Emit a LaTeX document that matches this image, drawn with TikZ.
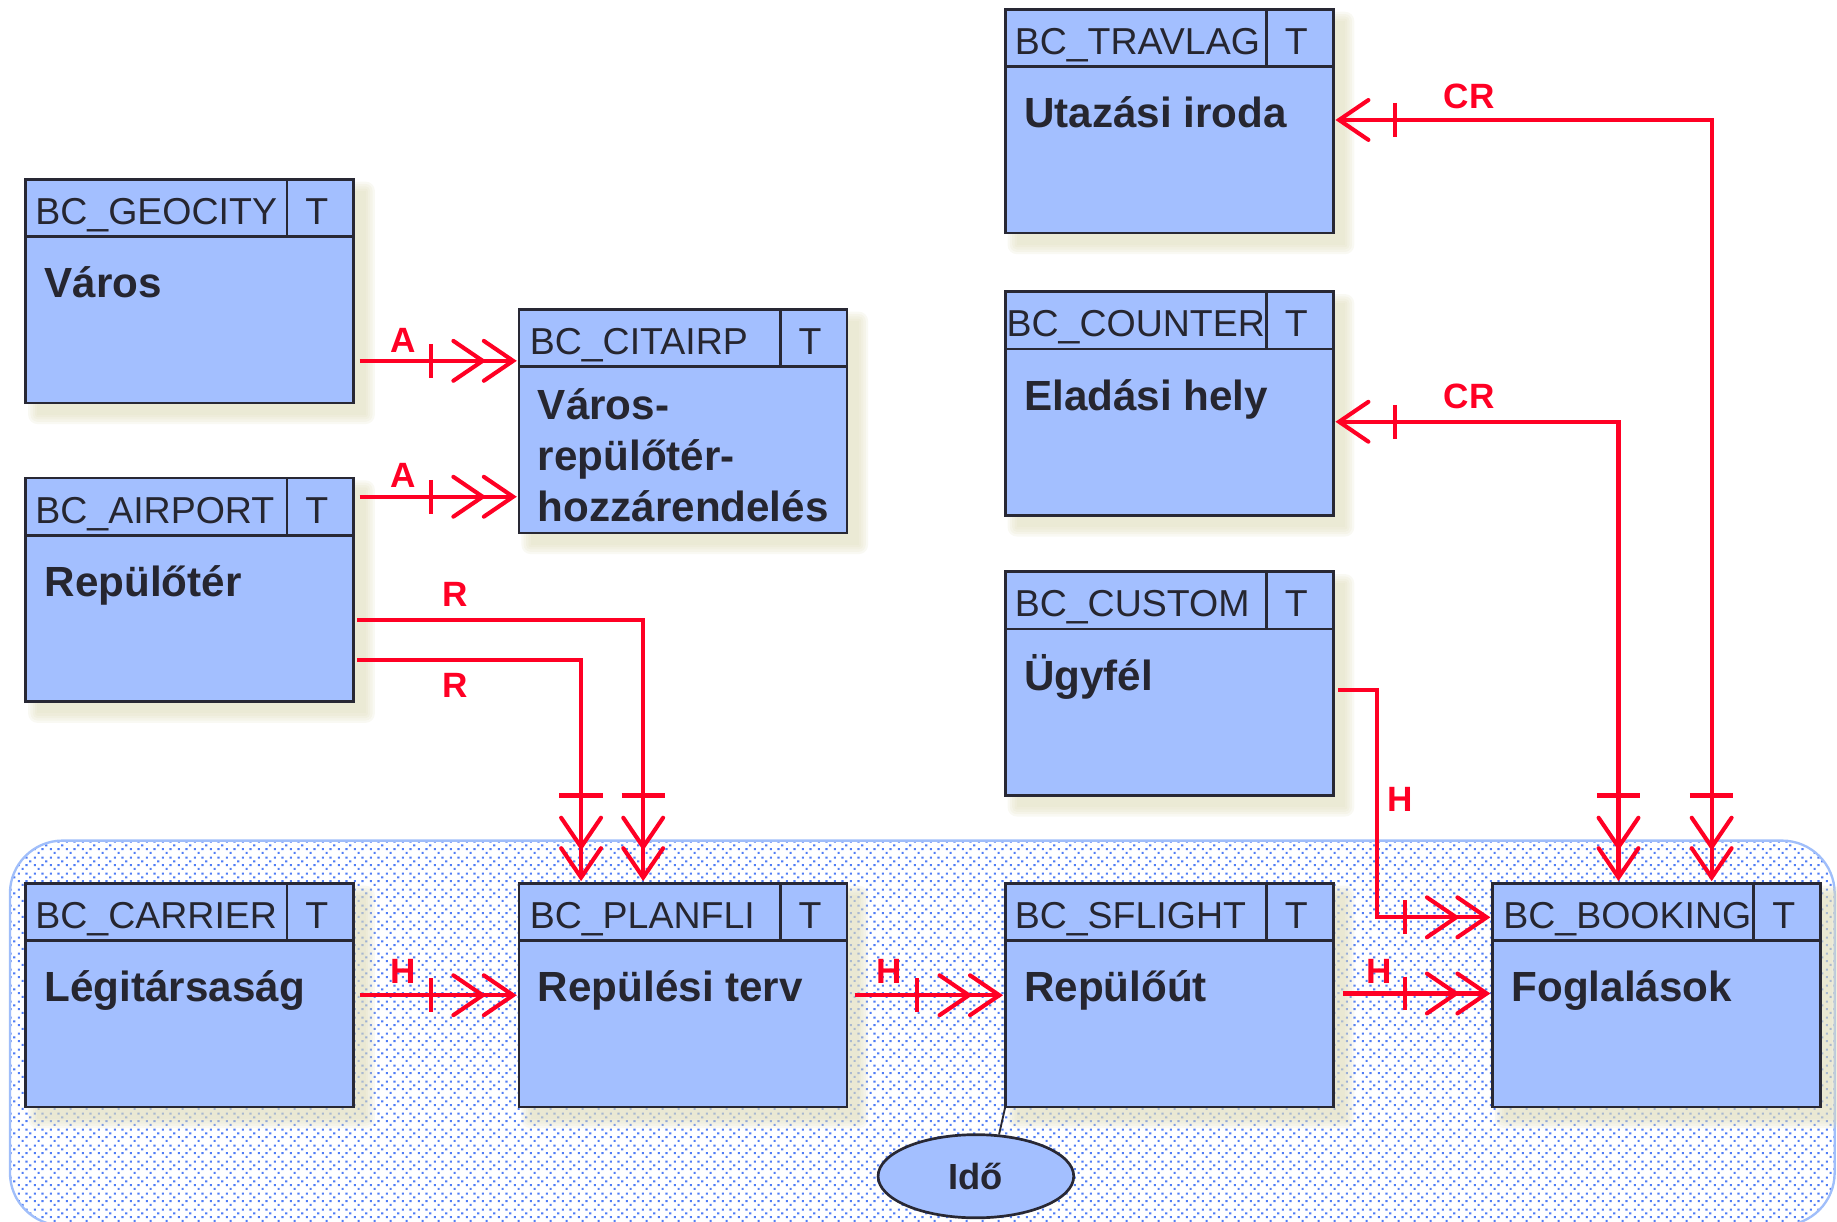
\documentclass[tikz,border=0pt]{standalone}
\usepackage{fontspec}
\setmainfont{Liberation Sans}
\usetikzlibrary{shapes.geometric,patterns,calc}
\definecolor{boxblue}{RGB}{163,191,255}
\definecolor{boxline}{RGB}{40,40,52}
\definecolor{txt}{RGB}{38,38,48}
\definecolor{relred}{RGB}{255,0,36}
\definecolor{dotblue}{RGB}{80,125,245}
\definecolor{frameblue}{RGB}{160,190,250}
\definecolor{shadowcol}{RGB}{224,221,188}
\pgfdeclarepatternformonly{erdots}{\pgfqpoint{0pt}{0pt}}{\pgfqpoint{13.66pt}{13.66pt}}{\pgfqpoint{13.66pt}{13.66pt}}{%
 \pgfpathrectangle{\pgfqpoint{5.12pt}{0pt}}{\pgfqpoint{1.9pt}{1.9pt}}%
 \pgfpathrectangle{\pgfqpoint{1.71pt}{3.41pt}}{\pgfqpoint{1.9pt}{1.9pt}}%
 \pgfpathrectangle{\pgfqpoint{8.54pt}{3.41pt}}{\pgfqpoint{1.9pt}{1.9pt}}%
 \pgfpathrectangle{\pgfqpoint{11.95pt}{6.83pt}}{\pgfqpoint{1.9pt}{1.9pt}}%
 \pgfpathrectangle{\pgfqpoint{1.71pt}{10.24pt}}{\pgfqpoint{1.9pt}{1.9pt}}%
 \pgfpathrectangle{\pgfqpoint{8.54pt}{10.24pt}}{\pgfqpoint{1.9pt}{1.9pt}}%
 \pgfusepath{fill}}
\tikzset{
  entity/.style={draw=boxline, line width=2.3pt, fill=boxblue, rectangle,
    minimum width=280pt, minimum height=191pt, anchor=north west,
    inner sep=0pt, outer sep=0pt},
  sepline/.style={draw=boxline, line width=2.3pt},
  hdr/.style={text=txt, font=\fontsize{32}{38}\selectfont, inner sep=0pt},
  bodytxt/.style={anchor=base west, text=txt, font=\fontsize{36}{44}\selectfont\bfseries, inner sep=0pt},
  rel/.style={draw=relred, line width=3.5pt},
  rellbl/.style={text=relred, font=\fontsize{30}{35}\selectfont\bfseries, inner sep=0pt},
  manyR/.pic={\draw[rel, line cap=round] (-25,-17)--(0,0)--(-25,17) (-51,-17)--(-26,0)--(-51,17);
              \draw[rel] (-70,-14.5)--(-70,14.5);},
  manyD/.pic={\draw[rel, line cap=round] (-17,-25)--(0,0)--(17,-25) (-17,-51)--(0,-26)--(17,-51);
              \draw[rel] (-18.5,-70)--(18.5,-70);},
  oneL/.pic={\draw[rel, line cap=round] (25,-17)--(0,0)--(25,17);
             \draw[rel] (48,-14.5)--(48,14.5);},
}
% #1 name, #2 x, #3 y, #4 header, #5 body, #6 body baseline offset, #7 header x offset
\newcommand\erbox[7]{%
  \foreach \d in {0,2,4,6,8} {\fill[shadowcol, opacity=0.18, rounded corners={\d pt}]
     ($(#2,#3)+(10-\d,10-\d)$) rectangle ++(280+2*\d,191+2*\d);}
  \node[entity] (#1) at (#2,#3) {};
  \draw[sepline] ($(#1.north west)+(0,49)$) -- ($(#1.north east)+(0,49)$);
  \draw[sepline] ($(#1.north west)+(223,0)$) -- ($(#1.north west)+(223,49)$);
  \node[hdr, anchor=base west] (#1-h) at ($(#1.north west)+(#7,38.5)$) {#4};
  \node[hdr, anchor=base] (#1-t) at ($(#1.north west)+(248.5,38.5)$) {T};
  \node[bodytxt] (#1-b) at ($(#1.north west)+(16,#6)$) {#5};
}
\begin{document}
\begin{tikzpicture}[x=1pt,y=-1pt]
\useasboundingbox (0,0) rectangle (1568,1043);
% container
\path[fill=white, rounded corners=45pt] (8.5,717.5) rectangle (1566,1046);
\path[pattern=erdots, pattern color=dotblue, rounded corners=45pt] (8.5,717.5) rectangle (1566,1046);
\draw[frameblue, line width=2pt, rounded corners=45pt] (8.5,717.5) rectangle (1566,1046);
% entities
\erbox{trav}{858}{8}{BC\_TRAVLAG}{Utazási iroda}{101}{8}
\erbox{geo}{22}{153}{BC\_GEOCITY}{Város}{101}{8}
\erbox{cnt}{858}{249}{BC\_COUNTER}{Eladási hely}{101}{1}
\erbox{cit}{443}{264}{BC\_CITAIRP}{Város-}{94}{9}
\node[bodytxt] (cit-b2) at ($(cit.north west)+(16,138)$) {repülőtér-};
\node[bodytxt] (cit-b3) at ($(cit.north west)+(16,181)$) {hozzárendelés};
\erbox{air}{22}{408}{BC\_AIRPORT}{Repülőtér}{101}{8}
\erbox{cus}{858}{488}{BC\_CUSTOM}{Ügyfél}{101}{8}
\erbox{car}{22}{754}{BC\_CARRIER}{Légitársaság}{101}{8}
\erbox{pla}{443}{754}{BC\_PLANFLI}{Repülési terv}{101}{9}
\erbox{sfl}{858}{754}{BC\_SFLIGHT}{Repülőút}{101}{8}
\erbox{boo}{1274}{754}{BC\_BOOKING}{Foglalások}{101}{9}
% time ellipse
\node[ellipse, draw=boxline, line width=2.3pt, fill=boxblue, minimum width=167pt,
      minimum height=71pt, inner sep=0pt, text=txt,
      font=\fontsize{31}{36}\selectfont\bfseries] (ido) at (833,1004) {Idő};
\draw[boxline, line width=1.6pt] (sfl.south west) -- (ido.61);
% connector end points
\coordinate (s1) at ($(geo.north east)+(5,155)$);
\coordinate (e1) at ($(cit.north west)+(-5,44)$);
\coordinate (s2) at ($(air.north east)+(5,16)$);
\coordinate (e2) at ($(cit.north west)+(-5,160)$);
\coordinate (s3) at ($(air.north east)+(3,121)$);
\coordinate (e3) at ($(pla.north west)+(106,-5)$);
\coordinate (s4) at ($(air.north east)+(3,155.5)$);
\coordinate (e4) at ($(pla.north west)+(53,-5)$);
\coordinate (s5) at ($(car.north east)+(5,95.5)$);
\coordinate (e5) at ($(pla.north west)+(-5,95.5)$);
\coordinate (s6) at ($(pla.north east)+(6.5,95.5)$);
\coordinate (e6) at ($(sfl.north west)+(-5,95.5)$);
\coordinate (s7) at ($(sfl.north east)+(8,94)$);
\coordinate (e7) at ($(boo.north west)+(-5,94)$);
\coordinate (s8) at ($(cus.north east)+(4,101)$);
\coordinate (e8) at ($(boo.north west)+(-5,29)$);
\coordinate (s9) at ($(cnt.north east)+(5,111)$);
\coordinate (e9) at ($(boo.north west)+(107.5,-5)$);
\coordinate (s10) at ($(trav.north east)+(5,94.4)$);
\coordinate (e10) at ($(boo.north west)+(187,-5)$);
% connectors
\draw[rel] (s1) -- (e1);  \pic at (e1) {manyR};
\draw[rel] (s2) -- (e2);  \pic at (e2) {manyR};
\draw[rel] (s3) -| (e3);  \pic at (e3) {manyD};
\draw[rel] (s4) -| (e4);  \pic at (e4) {manyD};
\draw[rel] (s5) -- (e5);  \pic at (e5) {manyR};
\draw[rel] (s6) -- (e6);  \pic at (e6) {manyR};
\draw[rel] (s7) -- (e7);  \pic at (e7) {manyR};
\draw[rel] (s8) -- ++(33,0) |- (e8);  \pic at (e8) {manyR};
\draw[rel] (s9) -| (e9);  \pic at (s9) {oneL};  \pic at (e9) {manyD};
\draw[rel] (s10) -| (e10);  \pic at (s10) {oneL};  \pic at (e10) {manyD};
% labels
\node[rellbl] (l1) at (344.5,290.5) {A};
\node[rellbl] (l2) at (344.5,406) {A};
\node[rellbl] (l3) at (388.6,507) {R};
\node[rellbl] (l4) at (388.6,585) {R};
\node[rellbl] (l5) at (344.4,829.4) {H};
\node[rellbl] (l6) at (759,829.4) {H};
\node[rellbl] (l7) at (1177,829) {H};
\node[rellbl] (l8) at (1195,682) {H};
\node[rellbl] (l9) at (1254,82.5) {CR};
\node[rellbl] (l10) at (1254,338.6) {CR};
\end{tikzpicture}
\end{document}
